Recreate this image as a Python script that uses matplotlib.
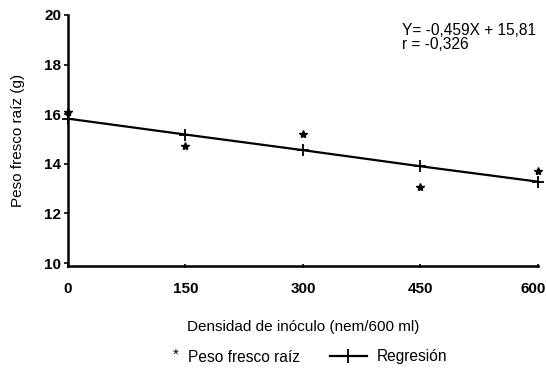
import matplotlib
matplotlib.use("Agg")
import matplotlib.pyplot as plt
from matplotlib.lines import Line2D
import matplotlib.transforms as mtransforms

plt.rcParams['font.family'] = ['Liberation Sans', 'DejaVu Sans']

x_vals = [0, 150, 300, 450, 600]
peso = [16.1, 14.7, 15.2, 13.05, 13.7]
regresion = [15.82, 15.18, 14.55, 13.9, 13.28]
xticks = [0, 150, 300, 450, 600]
yticks = [10, 12, 14, 16, 18, 20]

fig = plt.figure(figsize=(5.47, 3.75), dpi=100)
ax = fig.add_axes([0.1243, 0.2907, 0.8592, 0.6693])

ax.plot(x_vals, peso, linestyle='none', marker='*', color='black', markersize=6,
        clip_on=False)
ax.plot(x_vals, regresion, color='black', linewidth=1.6, marker='+', markersize=8,
        markeredgewidth=1.3, clip_on=False)

ax.set_xlim(0, 600)
ax.set_ylim(9.88, 20)
ax.set_xticks(xticks)
ax.set_yticks(yticks)
ax.tick_params(axis='both', labelsize=11, length=3, width=1.2, color='black')
ax.tick_params(axis='x', direction='inout', pad=10)
ax.tick_params(axis='y', direction='out', pad=2)
for lbl in ax.get_xticklabels() + ax.get_yticklabels():
    lbl.set_fontweight('bold')
last = ax.get_xticklabels()[-1]
last.set_transform(last.get_transform() + mtransforms.ScaledTranslation(-5/100, 0, fig.dpi_scale_trans))

for s in ['top', 'right']:
    ax.spines[s].set_visible(False)
for s in ['left', 'bottom']:
    ax.spines[s].set_linewidth(1.8)

ax.set_xlabel('Densidad de inóculo (nem/600 ml)', fontsize=11, labelpad=17)
ax.set_ylabel('Peso fresco raíz (g)', fontsize=11, labelpad=14)

ax.text(426, 19.1, 'Y= -0,459X + 15,81\nr = -0,326', fontsize=11.2,
        linespacing=0.95, va='center', ha='left')

# legend
fig.text(173 / 547, 1 - 355 / 375, '*', fontsize=11, ha='left', va='center')
fig.text(188 / 547, 1 - 357 / 375, 'Peso fresco raíz', fontsize=11.2, ha='left', va='center')
handle = Line2D([], [], color='black', linewidth=1.6, marker='+', markersize=10,
                markeredgewidth=1.3)
fig.legend([handle], ['Regresión'], loc='center left',
           bbox_to_anchor=(322 / 547, 1 - 357 / 375), frameon=False,
           fontsize=11.2, handlelength=2.4, handletextpad=0.6, borderpad=0)

fig.savefig('out.png', dpi=100)
